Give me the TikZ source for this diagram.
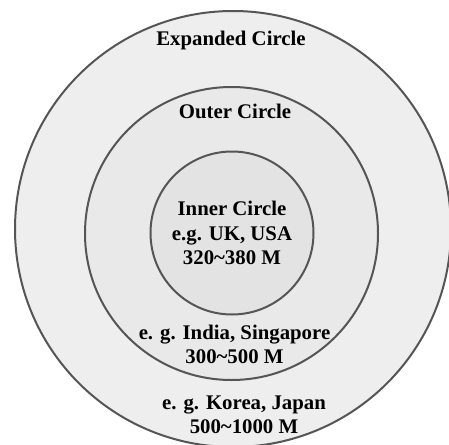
\documentclass[tikz,border=0pt]{standalone}
\usepackage{fontspec}
\setmainfont{Liberation Serif}

\definecolor{ringline}{HTML}{555555}
\definecolor{expandedfill}{HTML}{EEEEEE}
\definecolor{outerfill}{HTML}{E9E9E9}
\definecolor{innerfill}{HTML}{E3E3E3}

\begin{document}
\begin{tikzpicture}[x=1pt,y=-1pt]
\tikzset{
  ring/.style={circle,draw=ringline,line width=2pt,inner sep=0pt},
  ringlabel/.style={font=\fontsize{20.8}{24.5}\selectfont\bfseries,align=center,inner sep=0pt}
}
\useasboundingbox (0,0) rectangle (449,444);
\clip (0,0) rectangle (449,444);
\node[ring,fill=expandedfill,minimum size=436pt] (c_expanded) at (233,229) {};
\node[ring,fill=outerfill,minimum size=293pt] (c_outer) at (231.5,233.5) {};
\node[ring,fill=innerfill,minimum size=163pt] (c_inner) at (232,233) {};
\node[ringlabel] (l_expanded) at (231,40) {Expanded Circle};
\node[ringlabel] (l_outer) at (235,111) {Outer Circle};
\node[ringlabel] (l_inner) at (232,233) {Inner Circle\\e.g. UK, USA\\320\textasciitilde380 M};
\node[ringlabel] (l_india) at (234.5,344.5) {e. g. India, Singapore\\300\textasciitilde500 M};
\node[ringlabel] (l_korea) at (244,415) {e. g. Korea, Japan\\500\textasciitilde1000 M};
\end{tikzpicture}
\end{document}
